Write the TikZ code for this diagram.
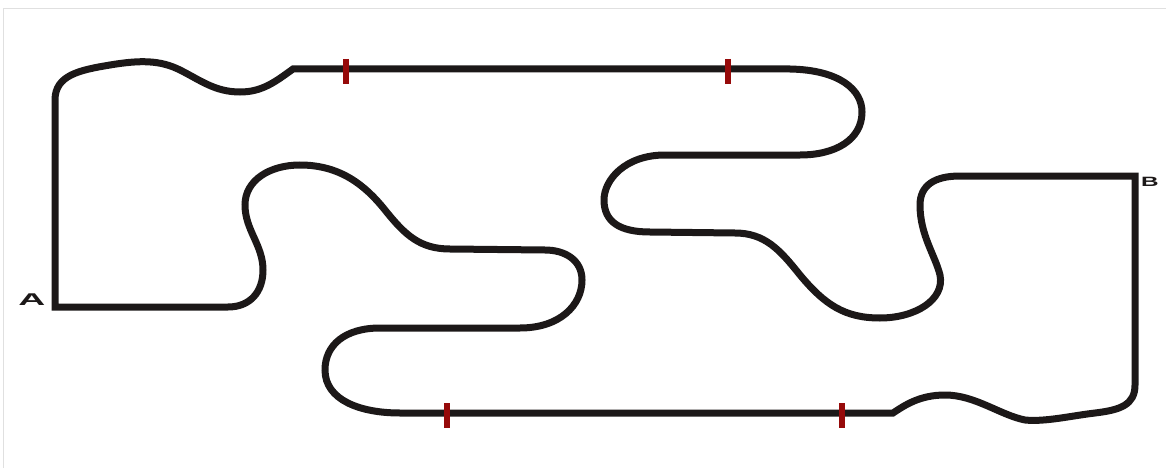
\documentclass[tikz,border=0pt]{standalone}
\usepackage{fontspec}
\setmainfont{Liberation Sans}
\begin{document}
\begin{tikzpicture}[x=1pt,y=-1pt,
  track/.style={line width=7pt,draw={rgb,255:red,28;green,24;blue,24},line join=miter,line cap=butt},
  gate/.style={line width=6.5pt,draw={rgb,255:red,150;green,10;blue,10}},
  frame/.style={line width=0.8pt,draw=black!12},
  lbl/.style={inner sep=0pt,text={rgb,255:red,28;green,24;blue,24},font=\fontsize{17}{17}\selectfont\bfseries}]
\useasboundingbox (0,0) rectangle (1166,468);
\draw[frame] (3,468) -- (3,8) -- (1166,8);
\coordinate (A) at (55,307);
\coordinate (B) at (1135,176);
\draw[track] (A) -- (55,100)
  .. controls (55,75) and (80,70) .. (110,65)
  .. controls (140,60) and (160,60) .. (180,70)
  .. controls (200,80) and (215,92) .. (240,92)
  .. controls (262,92) and (275,82) .. (293,69)
  -- (790,69)
  .. controls (840,70) and (862,90) .. (862,112)
  .. controls (862,140) and (835,155) .. (800,155)
  -- (665,155)
  .. controls (625,155) and (604,180) .. (604,200)
  .. controls (604,222) and (620,232) .. (650,232)
  -- (735,233)
  .. controls (765,233) and (780,250) .. (800,275)
  .. controls (825,305) and (845,318) .. (880,318)
  .. controls (915,318) and (945,300) .. (940,275)
  .. controls (935,255) and (920,235) .. (920,205)
  .. controls (920,185) and (935,176) .. (960,176)
  -- (B) -- (1135,385)
  .. controls (1135,405) and (1120,410) .. (1095,413)
  .. controls (1070,416) and (1045,422) .. (1025,420)
  .. controls (1000,415) and (975,395) .. (945,395)
  .. controls (920,395) and (905,405) .. (893,413)
  -- (400,413)
  .. controls (360,413) and (325,400) .. (325,370)
  .. controls (325,345) and (345,328) .. (380,328)
  -- (520,328)
  .. controls (560,328) and (582,305) .. (582,280)
  .. controls (582,260) and (565,250) .. (545,250)
  -- (450,249)
  .. controls (420,249) and (405,235) .. (385,210)
  .. controls (365,185) and (340,165) .. (300,165)
  .. controls (270,165) and (245,180) .. (245,205)
  .. controls (245,230) and (263,245) .. (263,270)
  .. controls (263,292) and (250,307) .. (228,307)
  -- cycle;
\draw[gate] (346,59) -- (346,84);
\draw[gate] (728,59) -- (728,84);
\draw[gate] (447,403) -- (447,428);
\draw[gate] (842,403) -- (842,428);
\node[lbl,xscale=2.2] (labelA) at (32,300) {A};
\node[lbl,xscale=1.8,font=\fontsize{13.5}{13.5}\selectfont\bfseries] (labelB) at (1150,182) {B};
\end{tikzpicture}
\end{document}
